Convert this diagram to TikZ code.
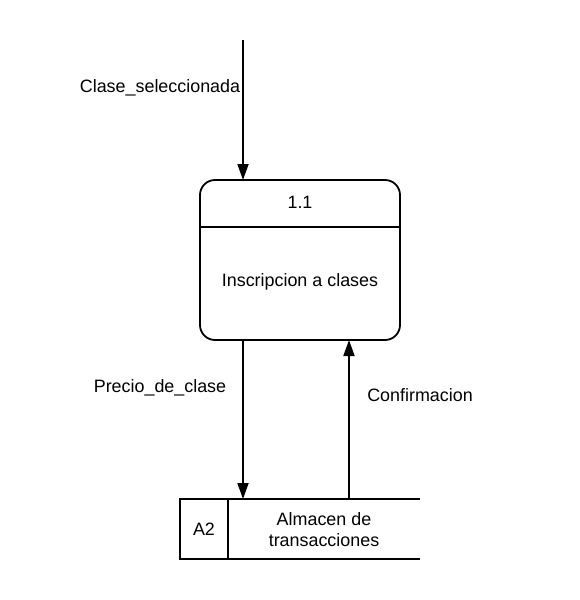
\documentclass[tikz,border=0pt]{standalone}
\usepackage{fontspec}
\setmainfont{Liberation Sans}
\usetikzlibrary{arrows.meta}
\tikzset{
  procbox/.style={draw,line width=1.8pt,rounded corners=15pt,minimum width=200pt,minimum height=160pt,inner sep=0pt},
  storebox/.style={minimum width=240pt,minimum height=60pt,inner sep=0pt},
  lbl/.style={font=\fontsize{17.9}{21}\selectfont,inner sep=0pt,align=center},
  flow/.style={line width=1.8pt,-{Triangle[length=16pt,width=11pt]}}
}
\begin{document}
\begin{tikzpicture}[x=1pt,y=-1pt]
  \useasboundingbox (0,0) rectangle (580,600);
  % process 1.1
  \node[procbox] (proc) at (300,260) {};
  \draw[line width=1.8pt] (200,227) -- (400,227);
  \node[lbl] (num) at (300,202) {1.1};
  \node[lbl] (name) at (300,282) {Inscripcion a clases};
  % data store A2
  \node[storebox] (store) at (300,529) {};
  \draw[line width=1.8pt] (store.north east) -- (store.north west) -- (store.south west) -- (store.south east);
  \draw[line width=1.8pt] (228,499) -- (228,559);
  \node[lbl] (id) at (204,529) {A2};
  \node[lbl] (sname) at (324,530) {Almacen de\\transacciones};
  % flows
  \coordinate (src) at (243,40);
  \coordinate (procin) at (243,180);
  \coordinate (procout) at (243,340);
  \coordinate (storein) at (243,499);
  \coordinate (storeout) at (349,499);
  \coordinate (procback) at (349,340);
  \draw[flow] (src) -- (procin);
  \draw[flow] (procout) -- (storein);
  \draw[flow] (storeout) -- (procback);
  \node[lbl] (l1) at (160,88) {Clase\_seleccionada};
  \node[lbl] (l2) at (160,388) {Precio\_de\_clase};
  \node[lbl] (l3) at (420,395) {Confirmacion};
\end{tikzpicture}
\end{document}
